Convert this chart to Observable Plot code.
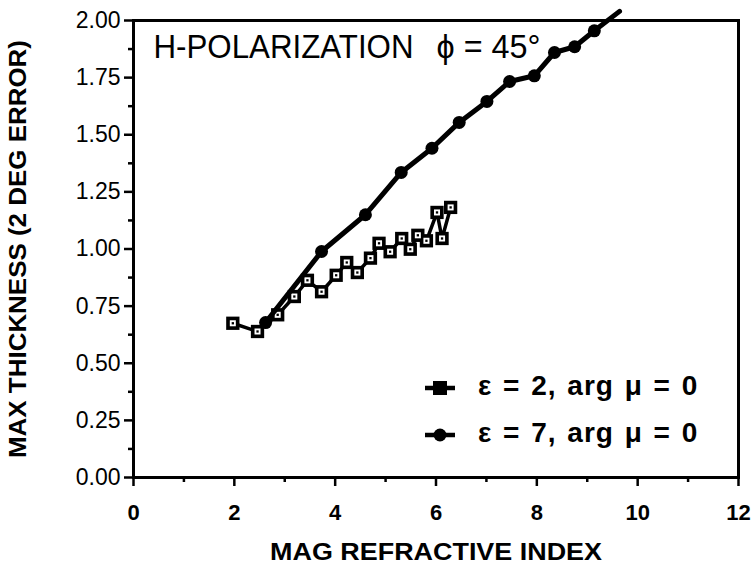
<!DOCTYPE html>
<html>
<head>
<meta charset="utf-8">
<script src="https://cdn.jsdelivr.net/npm/d3@7"></script>
<script src="https://cdn.jsdelivr.net/npm/@observablehq/plot@0.6"></script>
<style>
  html, body { margin: 0; padding: 0; background: #fff; }
  #wrap { position: relative; width: 755px; height: 572px; }
  #legend { position: absolute; left: 422px; top: 362px; font-family: "Liberation Sans", Arial, sans-serif; font-weight: bold; font-size: 28px; color: #000; }
  #legend .row { display: flex; align-items: center; height: 47px; }
  #legend .lbl { display: inline-block; margin-left: 20px; white-space: nowrap; letter-spacing: 1px; word-spacing: 2px; }
</style>
</head>
<body>
<div id="wrap"></div>
<script>
// ε = 2, arg μ = 0 (square markers)
const xSquares = [1.97, 2.46, 2.86, 3.19, 3.45, 3.73, 4.02, 4.23, 4.44, 4.70, 4.87, 5.09, 5.32, 5.49, 5.64, 5.81, 6.02, 6.12, 6.29];
const ySquares = [0.675, 0.639, 0.712, 0.792, 0.863, 0.813, 0.885, 0.941, 0.897, 0.960, 1.025, 0.988, 1.046, 0.999, 1.060, 1.036, 1.160, 1.046, 1.182];
// ε = 7, arg μ = 0 (circle markers); last line point runs past the top of the frame
const xCircles = [2.62, 3.73, 4.60, 5.31, 5.92, 6.46, 7.01, 7.46, 7.95, 8.35, 8.75, 9.14];
const yCircles = [0.678, 0.989, 1.150, 1.335, 1.441, 1.554, 1.646, 1.733, 1.758, 1.860, 1.885, 1.955];
const xLineEnd = [9.64];
const yLineEnd = [2.04];

const xTicks = [0, 2, 4, 6, 8, 10, 12];
const xMinorTicks = [1, 3, 5, 7, 9, 11];
const yTicks = [0, 0.25, 0.5, 0.75, 1.0, 1.25, 1.5, 1.75, 2.0];
const yMinorTicks = [0.125, 0.375, 0.625, 0.875, 1.125, 1.375, 1.625, 1.875];

const titleText = ["H-POLARIZATION"];
const phiText = ["\u03D5 = 45\u00B0"];
const xLabel = ["MAG REFRACTIVE INDEX"];
const yLabel = ["MAX THICKNESS (2 DEG ERROR)"];
const legendLabels = ["\u03B5 = 2, arg \u03BC = 0", "\u03B5 = 7, arg \u03BC = 0"];

const squares = xSquares.map((x, i) => ({x, y: ySquares[i]}));
const circles = xCircles.map((x, i) => ({x, y: yCircles[i]}));
const circleLine = circles.concat(xLineEnd.map((x, i) => ({x, y: yLineEnd[i]})));

const chart = Plot.plot({
  width: 755,
  height: 572,
  marginLeft: 133,
  marginRight: 17,
  marginTop: 20,
  marginBottom: 95,
  x: {domain: [0, 12]},
  y: {domain: [0, 2]},
  style: {fontFamily: "Liberation Sans, Arial, sans-serif", color: "#000", background: "#fff", overflow: "visible"},
  marks: [
    Plot.frame({stroke: "#000", strokeWidth: 3}),
    Plot.axisY({ticks: yTicks, tickSize: 9, tickPadding: 4, tickFormat: d => d.toFixed(2), fontSize: 23, strokeWidth: 2.5, label: null}),
    Plot.axisY({ticks: yMinorTicks, tickSize: 5, tickFormat: () => "", strokeWidth: 2.5, label: null}),
    Plot.axisX({ticks: xTicks, tickSize: 9, tickPadding: 18, fontSize: 22, fontWeight: "bold", strokeWidth: 2.5, label: null}),
    Plot.axisX({ticks: xMinorTicks, tickSize: 5, tickFormat: () => "", strokeWidth: 2.5, label: null}),
    Plot.line(squares, {x: "x", y: "y", stroke: "#000", strokeWidth: 3.5}),
    Plot.dot(squares, {x: "x", y: "y", symbol: "square", r: 7.5, fill: "#000", stroke: null}),
    Plot.dot(squares, {x: "x", y: "y", symbol: "square", r: 3.4, fill: "#fff", stroke: null}),
    Plot.dot(squares, {x: "x", y: "y", symbol: "square", r: 1.3, fill: "#000", stroke: null}),
    Plot.line(circleLine, {x: "x", y: "y", stroke: "#000", strokeWidth: 5}),
    Plot.dot(circles, {x: "x", y: "y", r: 6.5, fill: "#000", stroke: null}),
    Plot.text(titleText, {frameAnchor: "top-left", dx: 20, dy: 27, textAnchor: "start", lineAnchor: "middle", fontSize: 34}),
    Plot.text(phiText, {frameAnchor: "top-left", dx: 303, dy: 27, textAnchor: "start", lineAnchor: "middle", fontSize: 34}),
    Plot.text(xLabel, {frameAnchor: "bottom", dy: 75, textAnchor: "middle", lineAnchor: "middle", fontSize: 24, fontWeight: "bold"}),
    Plot.text(yLabel, {frameAnchor: "left", dx: -115, rotate: -90, textAnchor: "middle", lineAnchor: "middle", fontSize: 24, fontWeight: "bold"})
  ]
});

const svg = d3.select(chart);
const fit = (txt, len) => svg.selectAll("text").filter(function() { return this.textContent === txt; })
  .attr("textLength", len).attr("lengthAdjust", "spacingAndGlyphs");
fit(titleText[0], 260);
fit(phiText[0], 104);
fit(xLabel[0], 332);
fit(yLabel[0], 418);

const wrap = document.getElementById("wrap");
wrap.appendChild(chart);

// legend
const legend = document.createElement("div");
legend.id = "legend";
const symbols = ["square", "circle"];
legendLabels.forEach((lab, i) => {
  const row = document.createElement("div");
  row.className = "row";
  const s = d3.create("svg").attr("width", 36).attr("height", 20);
  s.append("line").attr("x1", 3).attr("x2", 33).attr("y1", 12).attr("y2", 12).attr("stroke", "#000").attr("stroke-width", 4.5);
  if (symbols[i] === "square") {
    s.append("rect").attr("x", 11).attr("y", 5).attr("width", 14).attr("height", 14).attr("fill", "#000");
  } else {
    s.append("circle").attr("cx", 18).attr("cy", 12).attr("r", 6.5).attr("fill", "#000");
  }
  row.appendChild(s.node());
  const t = document.createElement("span");
  t.className = "lbl";
  t.textContent = lab;
  row.appendChild(t);
  legend.appendChild(row);
});
wrap.appendChild(legend);
</script>
</body>
</html>
